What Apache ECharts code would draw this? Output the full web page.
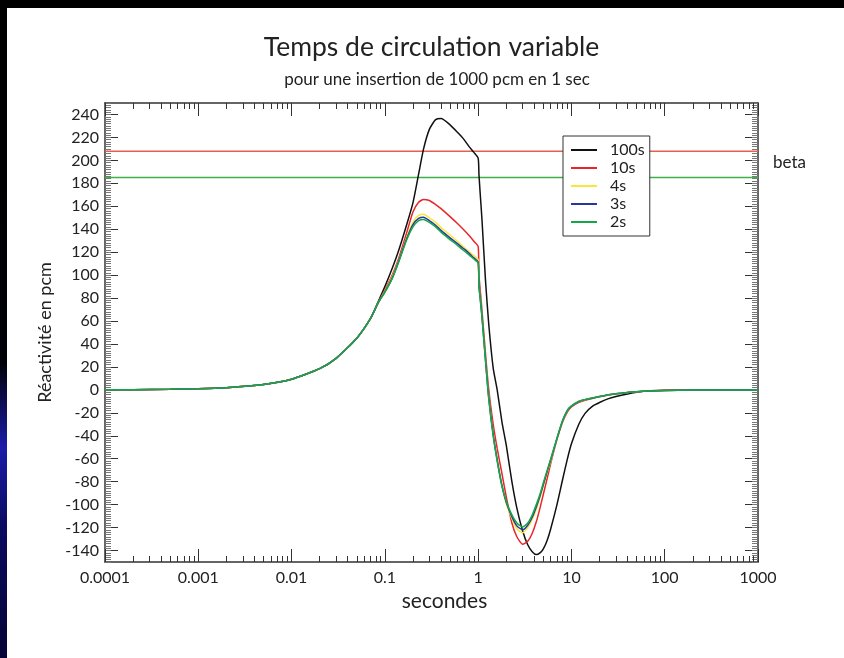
<!DOCTYPE html>
<html>
<head>
<meta charset="utf-8">
<title>Temps de circulation variable</title>
<script src="https://cdn.jsdelivr.net/npm/echarts@6/dist/echarts.min.js"></script>
<style>
  html, body { margin: 0; padding: 0; background: #fff; }
  #chart { width: 844px; height: 658px; }
</style>
</head>
<body>
<div id="chart"></div>
<script>
// temps (s), axe logarithmique
const temps = [1e-4, 2e-4, 5e-4, 1e-3, 2e-3, 5e-3, 0.01, 0.02, 0.03, 0.05, 0.07, 0.085,
  0.1, 0.12, 0.14, 0.17, 0.2, 0.23, 0.26, 0.3, 0.35, 0.4, 0.5, 0.6, 0.7, 0.8, 0.9, 1.0,
  1.02, 1.05, 1.1, 1.2, 1.3, 1.45, 1.6, 1.8, 2.0, 2.3, 2.6, 3.0, 3.4, 3.8, 4.2, 4.6, 5.0,
  5.5, 6.0, 7, 8, 9, 10, 12, 14, 17, 20, 25, 30, 40, 50, 70, 100, 200, 500, 1000];

// réactivité (pcm) pour chaque temps de circulation
const rho100s = [0.1, 0.2, 0.5, 0.9, 1.9, 4.7, 9.3, 18.5, 27.5, 45, 62, 77,
  90, 106, 121, 143, 163, 188, 210, 227, 235.5, 236.5, 231, 224.5, 218.5, 212, 207, 202,
  188, 172, 148, 95, 57, 19, 0, -28, -48, -80, -103, -123, -135, -141, -143.5, -142, -138.5,
  -131, -121, -100, -79, -61, -47, -30, -20.5, -14, -11, -7.6, -5.8, -3.5, -2, -0.8, -0.3, 0, 0, 0];
const rho10s = [0.1, 0.2, 0.5, 0.9, 1.9, 4.7, 9.3, 18.5, 27.5, 45, 62, 76,
  87, 100, 114, 136, 155, 163.5, 166, 165, 161.5, 158, 151, 145, 139.5, 134.5, 129.5, 125,
  100, 88, 69, 31, 0, -30, -51, -73, -93, -116, -128, -134.5, -132, -125, -115, -103, -91,
  -77, -64, -43, -28.5, -19.5, -14.8, -10.8, -9, -7.3, -6, -4.5, -3.4, -2.2, -1.6, -0.9, -0.5, -0.1, 0, 0];
const rho4s = [0.1, 0.2, 0.5, 0.9, 1.9, 4.7, 9.3, 18.5, 27.5, 45, 62, 76,
  86, 98.5, 112, 132, 146, 152, 153, 150, 146, 141.5, 135, 129.5, 124.5, 120.5, 117, 113.5,
  92, 82, 65, 27, -6, -38, -60, -83, -99, -112, -121, -124.5, -120, -113, -104, -94, -84,
  -72, -62, -43, -28, -18.5, -14.3, -10.2, -8.6, -7.1, -5.9, -4.4, -3.3, -2.2, -1.6, -0.9, -0.5, -0.1, 0, 0];
const rho3s = [0.1, 0.2, 0.5, 0.9, 1.9, 4.7, 9.3, 18.5, 27.5, 45, 62, 76,
  85.5, 97.5, 111.5, 131, 144, 149.5, 150.5, 147.5, 143.5, 139, 132.5, 127.5, 123, 119, 115, 111.5,
  91, 81, 64, 26, -7, -39, -61, -83.5, -98, -110.5, -118.5, -122, -118, -111, -102, -92.5, -82.5,
  -71, -61, -42.5, -27.5, -18.2, -14.1, -10.1, -8.5, -7, -5.8, -4.3, -3.3, -2.2, -1.6, -0.9, -0.5, -0.1, 0, 0];
const rho2s = [0.1, 0.2, 0.5, 0.9, 1.9, 4.7, 9.3, 18.5, 27.5, 45, 62, 76,
  85, 97, 111, 130, 142, 147.5, 148.5, 146, 142, 137.5, 131, 126, 121.5, 117.5, 114, 110.5,
  90, 80, 63, 25, -8, -40, -62, -84, -97, -109, -116, -119.5, -116, -109, -100, -91, -81,
  -70, -60, -42, -27, -18, -14, -10, -8.5, -7, -5.8, -4.3, -3.3, -2.2, -1.6, -0.9, -0.5, -0.1, 0, 0];

const nomsSeries = ['100s', '10s', '4s', '3s', '2s'];
const couleurs = ['#111111', '#e8262b', '#f5e83a', '#27379a', '#18a64a'];

// niveaux horizontaux (beta)
const niveauxBeta = [208, 185];
const couleursBeta = ['#e4604c', '#3db14b'];

// graduations
const decadesX = [1e-4, 1e-3, 0.01, 0.1, 1, 10, 100, 1000];
const etiquettesX = ['0.0001', '0.001', '0.01', '0.1', '1', '10', '100', '1000'];
const ticksY = [-140, -120, -100, -80, -60, -40, -20, 0, 20, 40, 60, 80, 100, 120,
  140, 160, 180, 200, 220, 240];

const minorX = [];
decadesX.slice(0, -1).forEach(function (d) {
  for (let k = 2; k <= 9; k++) minorX.push(d * k);
});

const police = 'Lato, "Open Sans", sans-serif';
const frame = '#333';

const chart = echarts.init(document.getElementById('chart'));

function xAxe(position, major) {
  return {
    type: 'log',
    logBase: 10,
    min: 1e-4,
    max: 1000,
    position: position,
    axisLine: { show: major, onZero: false, lineStyle: { color: frame, width: 1.5 } },
    axisTick: {
      show: true,
      inside: true,
      length: major ? 13 : 6,
      customValues: major ? decadesX : minorX,
      lineStyle: { color: frame, width: 1 }
    },
    axisLabel: {
      show: major && position === 'bottom',
      customValues: decadesX,
      margin: 8,
      color: '#222',
      fontFamily: police,
      fontSize: 16,
      formatter: function (v) {
        return etiquettesX[Math.round(Math.log10(v)) + 4];
      }
    },
    splitLine: { show: false },
    minorTick: { show: false },
    name: major && position === 'bottom' ? 'secondes' : '',
    nameLocation: 'middle',
    nameGap: 27,
    nameTextStyle: { color: '#222', fontFamily: police, fontSize: 21, padding: [0, 0, 0, 26] }
  };
}

function yAxe(position, major) {
  return {
    type: 'value',
    min: -150,
    max: 250,
    interval: major ? 10 : 2,
    position: position,
    axisLine: { show: major, onZero: false, lineStyle: { color: frame, width: 1.5 } },
    axisTick: major ? {
      show: true, inside: true, length: 13, customValues: ticksY,
      lineStyle: { color: frame, width: 1 }
    } : {
      show: true, inside: true, length: 6,
      lineStyle: { color: '#777', width: 1 }
    },
    axisLabel: {
      show: major && position === 'left',
      customValues: ticksY,
      margin: 6,
      color: '#222',
      fontFamily: police,
      fontSize: 16
    },
    splitLine: { show: false },
    name: major && position === 'left' ? 'Réactivité en pcm' : '',
    nameLocation: 'middle',
    nameGap: 46,
    nameTextStyle: { color: '#222', fontFamily: police, fontSize: 18 }
  };
}

const seriesCourbes = [rho100s, rho10s, rho4s, rho3s, rho2s].map(function (vals, i) {
  return {
    name: nomsSeries[i],
    type: 'line',
    symbol: 'none',
    smooth: 0.2,
    z: 3 + i,
    lineStyle: { color: couleurs[i], width: 1.5 },
    itemStyle: { color: couleurs[i] },
    data: temps.map(function (t, j) { return [t, vals[j]]; })
  };
});

const seriesBeta = niveauxBeta.map(function (v, i) {
  return {
    name: 'beta' + i,
    type: 'line',
    symbol: 'none',
    silent: true,
    z: 2,
    lineStyle: { color: couleursBeta[i], width: 1.5 },
    data: [[decadesX[0], v], [decadesX[decadesX.length - 1], v]]
  };
});

chart.setOption({
  animation: false,
  backgroundColor: '#fff',
  textStyle: { fontFamily: police },
  grid: { left: 105, right: 86, top: 103, bottom: 96, containLabel: false },
  xAxis: [xAxe('bottom', true), xAxe('bottom', false), xAxe('top', true), xAxe('top', false)],
  yAxis: [yAxe('left', true), yAxe('left', false), yAxe('right', true), yAxe('right', false)],
  legend: {
    data: nomsSeries,
    orient: 'vertical',
    left: 563,
    top: 136,
    padding: [6, 5, 6, 8],
    icon: 'rect',
    itemWidth: 26,
    itemHeight: 2,
    itemGap: 2,
    backgroundColor: '#fff',
    borderColor: '#333',
    borderWidth: 1,
    borderRadius: 0,
    z: 10,
    textStyle: { color: '#222', fontFamily: police, fontSize: 16, padding: [0, 0, 0, 8] }
  },
  graphic: [
    { type: 'rect', shape: { x: 0, y: 0, width: 844, height: 8 }, style: { fill: '#000' }, z: 100 },
    {
      type: 'rect', shape: { x: 0, y: 0, width: 7, height: 658 }, z: 100,
      style: {
        fill: new echarts.graphic.LinearGradient(0, 0, 0, 1, [
          { offset: 0, color: '#000' },
          { offset: 0.55, color: '#000008' },
          { offset: 0.68, color: '#1c1ca8' },
          { offset: 0.8, color: '#0a0a60' },
          { offset: 1, color: '#050535' }
        ])
      }
    },
    {
      type: 'text', x: 431.5, y: 47,
      style: {
        text: 'Temps de circulation variable', textAlign: 'center', textVerticalAlign: 'middle',
        fontFamily: police, fontSize: 26.5, fill: '#222'
      }
    },
    {
      type: 'text', x: 437, y: 80,
      style: {
        text: 'pour une insertion de 1000 pcm en 1 sec', textAlign: 'center', textVerticalAlign: 'middle',
        fontFamily: police, fontSize: 17, fill: '#222'
      }
    },
    {
      type: 'text', x: 773, y: 163,
      style: {
        text: 'beta', textAlign: 'left', textVerticalAlign: 'middle',
        fontFamily: police, fontSize: 17, fill: '#222'
      }
    }
  ],
  series: seriesBeta.concat(seriesCourbes)
});
</script>
</body>
</html>
